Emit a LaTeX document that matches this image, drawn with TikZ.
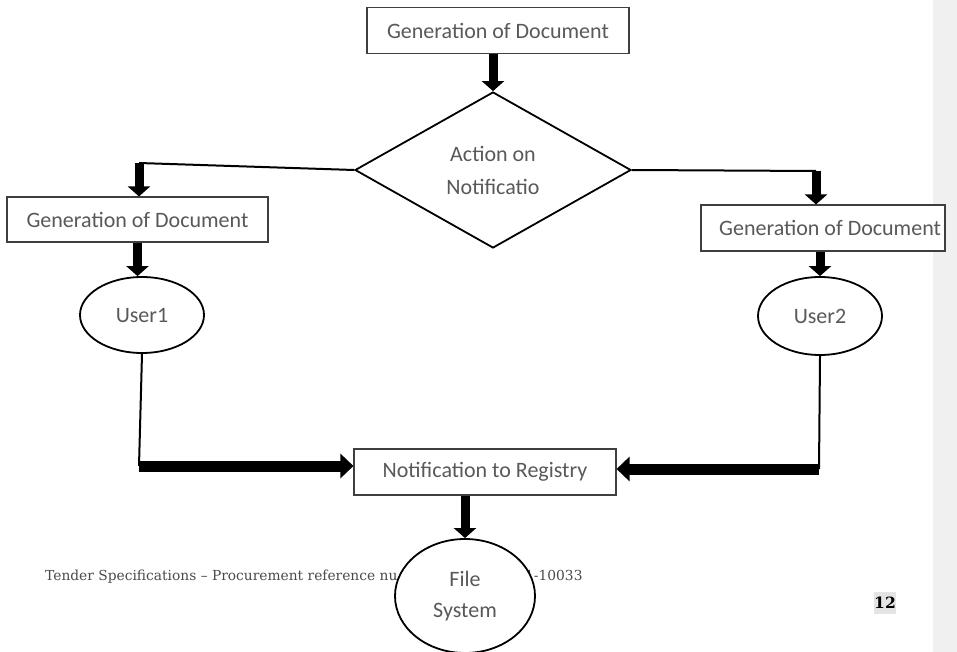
\documentclass[tikz,border=0pt]{standalone}
\usepackage{fontspec}
\setmainfont{Carlito}
\newfontfamily\footerfont{DejaVu Serif}
\usepackage{tikz}
\usetikzlibrary{shapes.geometric, arrows.meta, positioning, calc}
\definecolor{labelgray}{HTML}{595959}
\definecolor{framegray}{HTML}{3F3F3F}
\definecolor{margingray}{HTML}{F0F0F0}
\definecolor{footgray}{HTML}{4A4A4A}
\definecolor{pagenogray}{HTML}{E4E4E4}

\begin{document}
\begin{tikzpicture}[x=1pt, y=-1pt,
    font=\fontsize{22}{26}\selectfont,
    block/.style={rectangle, draw=framegray, line width=1.1pt, fill=white, text=labelgray, minimum width=262pt, minimum height=46pt, inner sep=0pt},
    decision/.style={diamond, draw, line width=1.8pt, fill=white, text=labelgray, align=center, font=\fontsize{22}{33}\selectfont, shape aspect=1.77, minimum width=276pt, minimum height=156pt, inner sep=0pt},
    user/.style={ellipse, draw, line width=1.8pt, fill=white, text=labelgray, align=center, font=\fontsize{22}{31}\selectfont, minimum width=124pt, minimum height=76pt, inner sep=0pt},
    footer/.style={anchor=base west, inner sep=0pt, text=footgray, font=\footerfont\fontsize{13.8}{17}\selectfont},
    arrow/.style={-{Triangle[width=22pt, length=10pt]}, line width=9pt},
    bigarrow/.style={-{Triangle[width=24pt, length=13pt]}, line width=11pt},
    link/.style={line width=2pt}
]
\useasboundingbox (0,0) rectangle (957,652);
% Page margin on the right
\fill[margingray] (933,0) rectangle (957,652);
% Top of the flow
\node[block] (gentop) at (498,30.5) {Generation of Document};
\node[decision] (action) at (493,170) {Action on\\Notificatio};
% Left and right branches
\node[block, minimum width=261pt, minimum height=45pt] (genleft) at (137.5,219.5) {Generation of Document};
\node[block, minimum width=244pt, text width=236pt, align=flush right] (genright) at (823,228) {Generation of Document};
\node[user] (userone) at (142,315) {User1};
\node[user, minimum height=78pt] (usertwo) at (820,316) {User2};
% Bottom
\node[block] (registry) at (485,472) {Notification to Registry};
% Footer of the page (behind the file system)
\node[footer] (footleft) at (45,580) {Tender Specifications – Procurement reference nu};
\node[footer] (footright) at (525,580) {1-10033};
\node[fill=pagenogray, inner xsep=0pt, inner ysep=5pt, text=black, font=\footerfont\bfseries\fontsize{15.5}{17}\selectfont] (pageno) at (885,603) {12};
\node[user, minimum width=140pt, minimum height=114pt] (filesys) at (465,596) {File\\System};
% Split points and bends
\coordinate (splitleft) at (139,163);
\coordinate (splitright) at (816,171);
\coordinate (bendleft) at (139,466);
\coordinate (bendright) at (819,469);
% Arrows from the top
\draw[arrow] (action.north |- gentop.south) -- (action.north);
\draw[link] (action.west) -- (splitleft);
\draw[arrow] (splitleft) -- (splitleft |- genleft.north);
\draw[link] (action.east) -- (splitright);
\draw[arrow] (splitright) -- (splitright |- genright.north);
% Down to the users
\draw[arrow] (genleft.south) -- (genleft.south |- userone.north);
\draw[arrow] (usertwo.north |- genright.south) -- (usertwo.north);
% Users to registry
\draw[link] (userone.south) -- (bendleft);
\draw[bigarrow] (bendleft) -- (registry.west |- bendleft);
\draw[link] (usertwo.south) -- (bendright);
\draw[bigarrow] (bendright) -- (registry.east |- bendright);
% Registry to file system
\draw[arrow] (filesys.north |- registry.south) -- (filesys.north);
\end{tikzpicture}
\end{document}
